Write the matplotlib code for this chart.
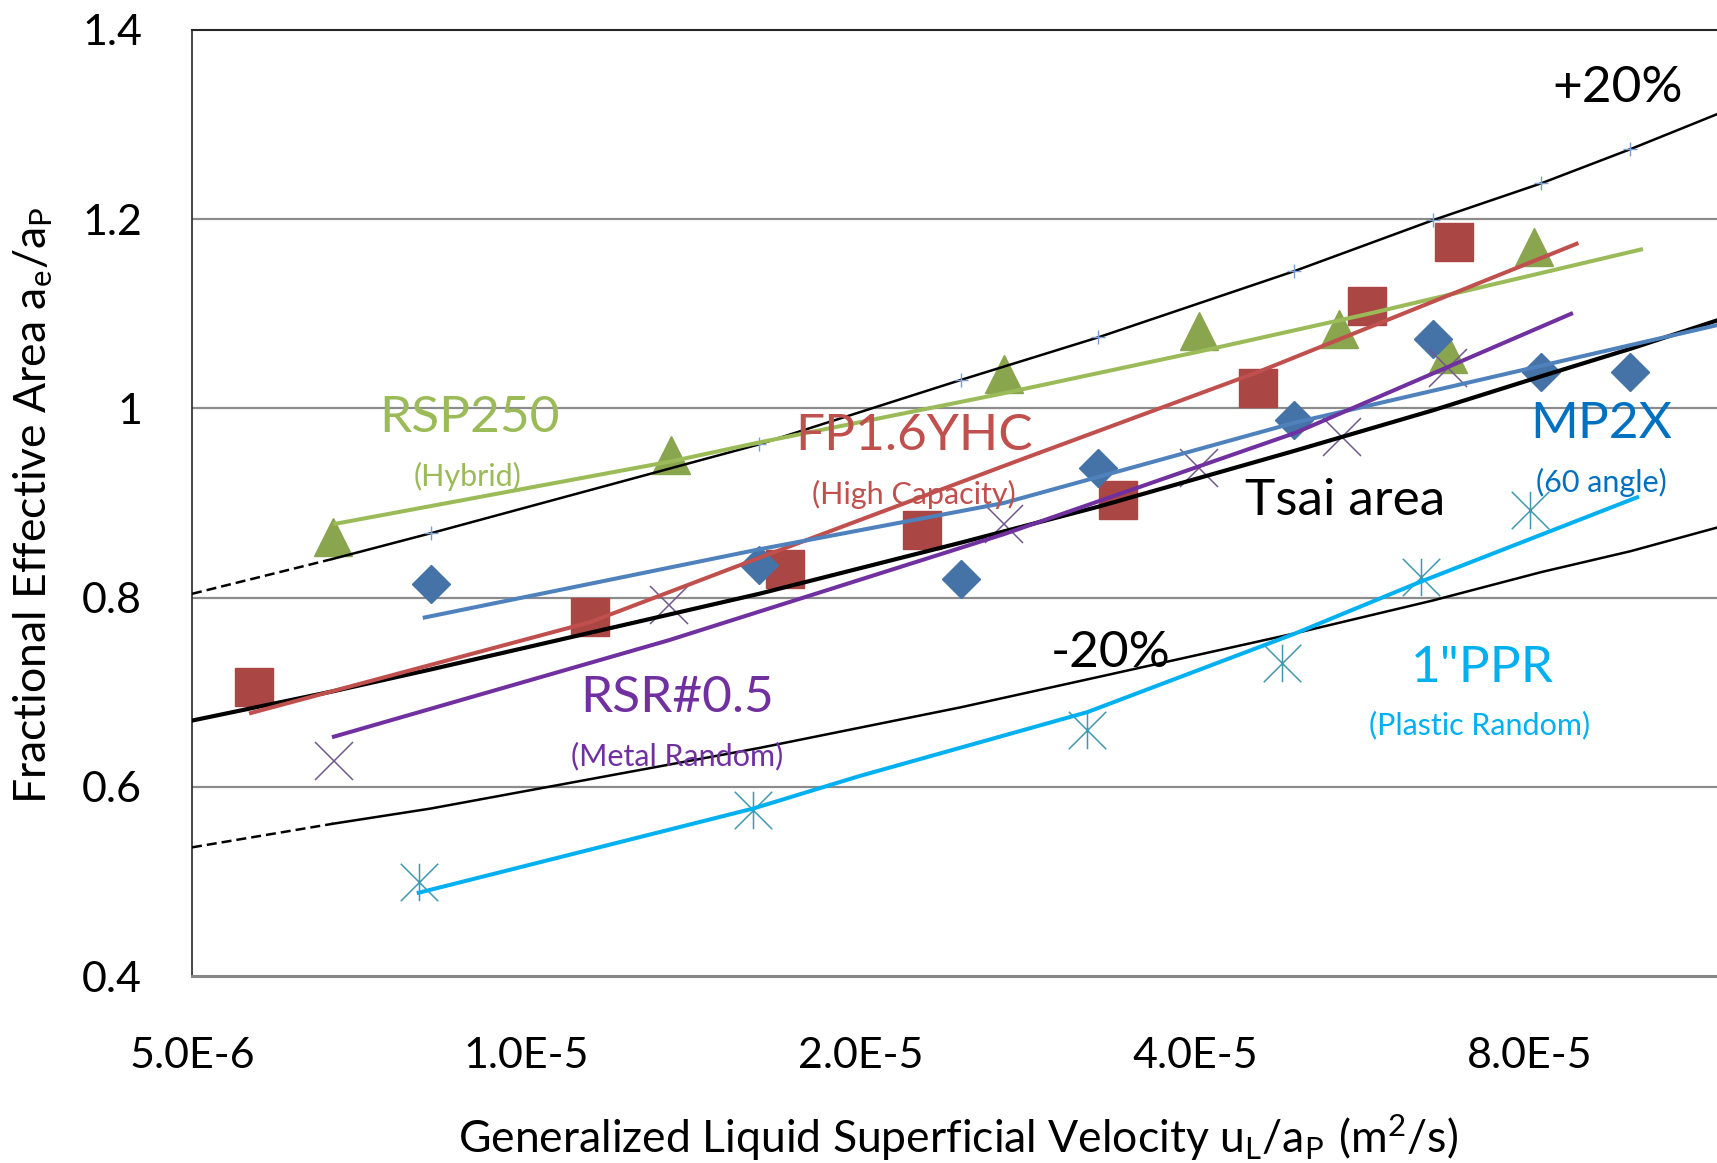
import matplotlib
matplotlib.use("Agg")
import matplotlib.pyplot as plt
from matplotlib.path import Path

plt.rcParams["font.family"] = ["Lato", "DejaVu Sans"]
plt.rcParams["mathtext.fontset"] = "custom"
plt.rcParams["mathtext.rm"] = "Lato"

# ---- data ----
x_ticks = [5e-6, 1e-5, 2e-5, 4e-5, 8e-5]
x_ticklabels = ["5.0E-6", "1.0E-5", "2.0E-5", "4.0E-5", "8.0E-5"]
y_ticks = [0.4, 0.6, 0.8, 1.0, 1.2, 1.4]
y_ticklabels = ["0.4", "0.6", "0.8", "1", "1.2", "1.4"]

# Tsai correlation and +/-20% band
x_band = [5.0e-6, 6.7e-6, 8.2e-6, 1.62e-5, 2.46e-5, 3.27e-5, 4.91e-5, 6.55e-5, 8.2e-5, 9.86e-5, 1.18e-4]
tsai = [0.670, 0.701, 0.724, 0.804, 0.858, 0.896, 0.955, 0.998, 1.034, 1.063, 1.093]
plus20 = [0.804, 0.841, 0.868, 0.962, 1.030, 1.075, 1.145, 1.199, 1.238, 1.274, 1.311]
minus20 = [0.536, 0.561, 0.577, 0.641, 0.684, 0.716, 0.762, 0.797, 0.827, 0.849, 0.874]

# RSP250 (Hybrid)
x_rsp = [6.7e-6, 1.35e-5, 2.69e-5, 4.03e-5, 5.39e-5, 6.75e-5, 8.07e-5]
y_rsp = [0.864, 0.951, 1.036, 1.082, 1.084, 1.058, 1.171]
fx_rsp = [6.73e-6, 1.35e-5, 1.62e-5, 2.69e-5, 4.03e-5, 5.73e-5, 1.008e-4]
fy_rsp = [0.878, 0.944, 0.964, 1.016, 1.060, 1.100, 1.168]

# FP1.6YHC (High Capacity)
x_fp = [5.69e-6, 1.141e-5, 1.709e-5, 2.27e-5, 3.41e-5, 4.56e-5, 5.71e-5, 6.84e-5]
y_fp = [0.706, 0.780, 0.830, 0.871, 0.903, 1.022, 1.108, 1.176]
fx_fp = [5.65e-6, 1.141e-5, 1.62e-5, 2.76e-5, 4.57e-5, 8.82e-5]
fy_fp = [0.678, 0.774, 0.842, 0.944, 1.039, 1.174]

# MP2X (60 angle)
x_mp = [8.2e-6, 1.62e-5, 2.46e-5, 3.27e-5, 4.91e-5, 6.55e-5, 8.2e-5, 9.86e-5]
y_mp = [0.814, 0.834, 0.820, 0.937, 0.988, 1.073, 1.039, 1.039]
fx_mp = [8.1e-6, 1.62e-5, 2.69e-5, 4.92e-5, 1.18e-4]
fy_mp = [0.779, 0.851, 0.900, 0.985, 1.088]

# RSR#0.5 (Metal Random)
x_rsr = [6.71e-6, 1.344e-5, 2.69e-5, 4.03e-5, 5.42e-5, 6.75e-5]
y_rsr = [0.627, 0.792, 0.878, 0.937, 0.970, 1.043]
fx_rsr = [6.71e-6, 1.344e-5, 2.69e-5, 4.92e-5, 8.72e-5]
fy_rsr = [0.653, 0.755, 0.867, 0.974, 1.100]

# 1"PPR (Plastic Random)
x_ppr = [8.0e-6, 1.60e-5, 3.20e-5, 4.79e-5, 6.39e-5, 8.0e-5]
y_ppr = [0.499, 0.576, 0.660, 0.731, 0.822, 0.893]
fx_ppr = [8.0e-6, 1.60e-5, 1.99e-5, 3.2e-5, 4.92e-5, 6.39e-5, 1.0e-4]
fy_ppr = [0.488, 0.577, 0.611, 0.679, 0.762, 0.817, 0.906]

# ---- figure ----
W, H = 1717, 1163
fig = plt.figure(figsize=(W / 100, H / 100), dpi=100)
ax = fig.add_axes([192 / W, 1 - 976 / H, 1 - 192 / W, (976 - 30) / H])

def fx(px):
    return px / W

def fy(py):
    return 1 - py / H

star = Path([(-1, -1), (1, 1), (-1, 1), (1, -1), (0, -1), (0, 1)],
            [Path.MOVETO, Path.LINETO, Path.MOVETO, Path.LINETO, Path.MOVETO, Path.LINETO])

ax.set_xscale("log", base=2)
ax.set_xlim(5e-6, 1.18e-4)
ax.set_ylim(0.4, 1.4)
ax.set_xticks(x_ticks)
ax.set_xticklabels(x_ticklabels)
ax.minorticks_off()
ax.set_yticks(y_ticks)
ax.set_yticklabels(y_ticklabels)
ax.tick_params(axis="x", length=0, pad=44, labelsize=31)
ax.tick_params(axis="y", length=0, pad=36, labelsize=31)
for v in y_ticks[1:-1]:
    ax.axhline(v, color="#8c8c8c", lw=1.6, zorder=0)

ax.spines["right"].set_visible(False)
ax.spines["top"].set_color("#262626")
ax.spines["top"].set_linewidth(1.5)
ax.spines["left"].set_color("#262626")
ax.spines["left"].set_linewidth(1.2)
ax.spines["bottom"].set_color("#868686")
ax.spines["bottom"].set_linewidth(2.2)

# markers
ax.plot(x_rsp, y_rsp, ls="none", marker="^", ms=27, color="#89A54E", zorder=3)
ax.plot(x_fp, y_fp, ls="none", marker="s", ms=28, color="#AA4643", zorder=3)
ax.plot(x_mp, y_mp, ls="none", marker="D", ms=19, color="#4572A7", zorder=3)
ax.plot(x_rsr, y_rsr, ls="none", marker="x", ms=27, mew=1.1, color="#71588F", zorder=3)
ax.plot(x_ppr, y_ppr, ls="none", marker=star, ms=27, mew=1.1, color="#4198AF", zorder=3)

# Tsai and band
ax.plot(x_band[:2], plus20[:2], color="black", lw=1.8, ls=(0, (4, 2)), zorder=4)
ax.plot(x_band[1:], plus20[1:], color="black", lw=1.8, zorder=4)
ax.plot(x_band[2:-1], plus20[2:-1], ls="none", marker="+", ms=10, mew=1, color="#7b9ed0", zorder=4)
ax.plot(x_band[:2], minus20[:2], color="black", lw=1.8, ls=(0, (4, 2)), zorder=4)
ax.plot(x_band[1:], minus20[1:], color="black", lw=1.8, zorder=4)
ax.plot(x_band, tsai, color="black", lw=3.0, zorder=4)

# trendlines
ax.plot(fx_rsp, fy_rsp, color="#9BBB59", lw=2.9, zorder=5)
ax.plot(fx_fp, fy_fp, color="#C0504D", lw=2.9, zorder=5)
ax.plot(fx_mp, fy_mp, color="#4F81BD", lw=2.9, zorder=5)
ax.plot(fx_rsr, fy_rsr, color="#7030A0", lw=2.9, zorder=5)
ax.plot(fx_ppr, fy_ppr, color="#00B0F0", lw=2.9, zorder=5)

# labels inside the plot
big, small = 37, 22
labels = [
    ("+20%", 1618, 88, "black", big),
    ("RSP250", 469, 418, "#9BBB59", big),
    ("(Hybrid)", 468, 476, "#9BBB59", small),
    ("FP1.6YHC", 914, 436, "#C0504D", big),
    ("(High Capacity)", 914, 494, "#C0504D", small),
    ("Tsai area", 1345, 501, "black", big),
    ("MP2X", 1601, 424, "#0070C0", big),
    ("(60 angle)", 1601, 482, "#0070C0", small),
    ("-20%", 1111, 653, "black", big),
    ("RSR#0.5", 677, 698, "#7030A0", big),
    ("(Metal Random)", 677, 756, "#7030A0", small),
    ('1"PPR', 1482, 668, "#00B0F0", big),
    ("(Plastic Random)", 1480, 725, "#00B0F0", small),
]
for txt, px, py, col, size in labels:
    fig.text(fx(px), fy(py), txt, color=col, fontsize=size, ha="center", va="center", zorder=6)

fig.text(fx(33), fy(505), r"Fractional Effective Area $\mathregular{a_e/a_P}$",
         rotation=90, fontsize=32, ha="center", va="center")
fig.text(fx(958), fy(1138), r"Generalized Liquid Superficial Velocity $\mathregular{u_L/a_P\ (m^2/s)}$",
         fontsize=32, ha="center", va="center")

fig.savefig("out.png", dpi=100)
